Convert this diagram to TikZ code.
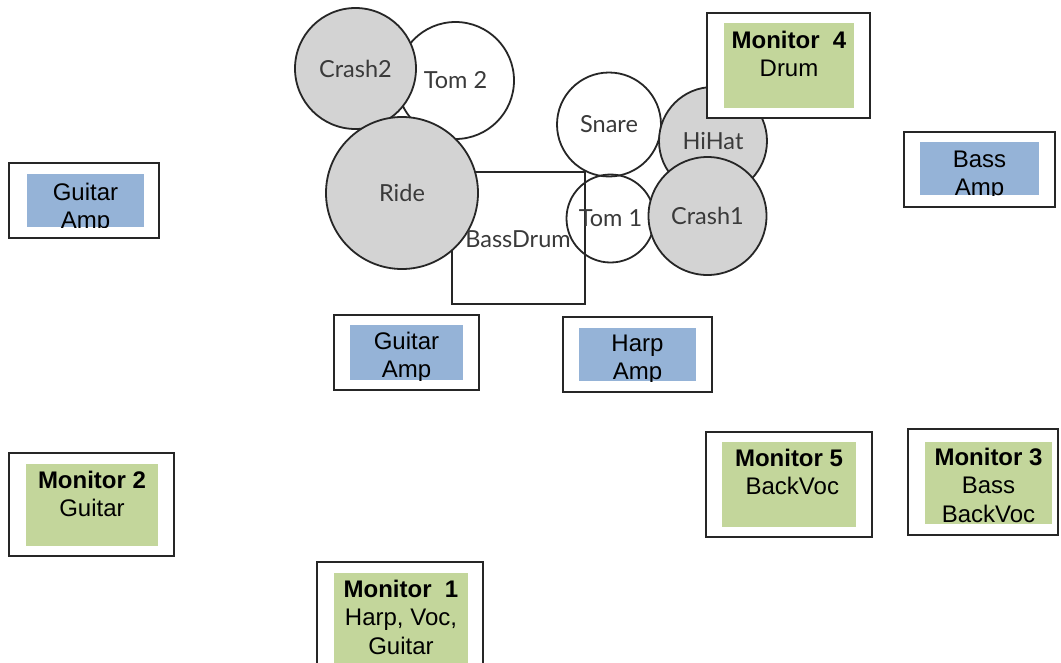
\documentclass[tikz,border=0pt]{standalone}
\usepackage{fontspec}
\setmainfont{Liberation Sans}
\newfontfamily\drumfont{Lato}
\definecolor{ampblue}{HTML}{95B3D7}
\definecolor{mongreen}{HTML}{C3D69B}
\definecolor{cymgray}{HTML}{D3D3D3}
\definecolor{drumtext}{HTML}{3A3A3A}
\tikzset{
  drum/.style={circle, draw=black!85, line width=1.8pt, inner sep=0pt,
    font=\drumfont\fontsize{23.5}{27}\selectfont, text=drumtext},
  cymbal/.style={drum, fill=cymgray},
  skin/.style={drum, fill=white},
  hoop/.style={drum},
  kick/.style={rectangle, draw=black!85, line width=1.8pt, inner sep=0pt},
  kicklabel/.style={inner sep=0pt, font=\drumfont\fontsize{23.5}{27}\selectfont, text=drumtext},
  outerbox/.style={rectangle, draw=black!85, line width=1.4pt, fill=white, inner sep=0pt},
  ampfill/.style={rectangle, fill=ampblue, inner sep=0pt},
  monfill/.style={rectangle, fill=mongreen, inner sep=0pt},
  boxtext/.style={anchor=base, inner sep=0pt, font=\fontsize{24}{28.8}\selectfont, text=black}
}
\begin{document}
\begin{tikzpicture}[x=1pt,y=-1pt]
\clip (0,0) rectangle (1061,662);
\fill[white] (0,0) rectangle (1061,662);

% drum kit
\node[skin, minimum size=117pt] (tom2) at (455.5,80.5) {Tom 2};
\node[cymbal, minimum size=121pt] (crash2) at (355.5,68.5) {Crash2};
\node[kick, minimum width=133pt, minimum height=132pt] (bassdrum) at (518.5,238) {};
\node[cymbal, minimum size=152pt] (ride) at (402,193) {Ride};
\node[kicklabel] (bdlabel) at (518,239) {BassDrum};
\node[skin, minimum size=104pt] (snare) at (609,124.5) {Snare};
\node[hoop, minimum size=88pt] (tom1) at (610.5,218.5) {Tom 1};
\node[cymbal, minimum size=108pt] (hihat) at (713,141) {HiHat};
\node[cymbal, minimum size=118pt] (crash1) at (707.5,216) {Crash1};

% left guitar amp
\node[outerbox, minimum width=150pt, minimum height=75pt] (gaL) at (84,200.5) {};
\node[ampfill, minimum width=117pt, minimum height=53pt] (gaLin) at (85.5,200.5) {};
\begin{scope}
\clip (gaLin.south west) rectangle (gaLin.north east);
\node[boxtext] (gaLtext) at (85.5,200) {\begin{tabular}[t]{@{}c@{}}Guitar\\Amp\end{tabular}};
\end{scope}

% middle guitar amp
\node[outerbox, minimum width=145pt, minimum height=75pt] (gaM) at (406.5,352.5) {};
\node[ampfill, minimum width=113pt, minimum height=55pt] (gaMin) at (406.5,352.5) {};
\begin{scope}
\clip (gaMin.south west) rectangle (gaMin.north east);
\node[boxtext] (gaMtext) at (406.5,349) {\begin{tabular}[t]{@{}c@{}}Guitar\\Amp\end{tabular}};
\end{scope}

% harp amp
\node[outerbox, minimum width=149pt, minimum height=75pt] (ha) at (637.5,354.5) {};
\node[ampfill, minimum width=117pt, minimum height=53pt] (hain) at (637.5,354.5) {};
\begin{scope}
\clip (hain.south west) rectangle (hain.north east);
\node[boxtext] (hatext) at (637.5,351) {\begin{tabular}[t]{@{}c@{}}Harp\\Amp\end{tabular}};
\end{scope}

% bass amp
\node[outerbox, minimum width=151pt, minimum height=75pt] (ba) at (979.5,169.5) {};
\node[ampfill, minimum width=119pt, minimum height=53pt] (bain) at (979.5,168.5) {};
\begin{scope}
\clip (bain.south west) rectangle (bain.north east);
\node[boxtext] (batext) at (979.5,167) {\begin{tabular}[t]{@{}c@{}}Bass\\Amp\end{tabular}};
\end{scope}

% monitor 4
\node[outerbox, minimum width=163pt, minimum height=105pt] (m4) at (788.5,65.5) {};
\node[monfill, minimum width=130pt, minimum height=85pt] (m4in) at (789,65.5) {};
\node[boxtext] (m4text) at (789,48) {\begin{tabular}[t]{@{}c@{}}\textbf{Monitor~~4}\\Drum\end{tabular}};

% monitor 2
\node[outerbox, minimum width=165pt, minimum height=103pt] (m2) at (91.5,504.5) {};
\node[monfill, minimum width=132pt, minimum height=82pt] (m2in) at (92,505) {};
\node[boxtext] (m2text) at (92,488) {\begin{tabular}[t]{@{}c@{}}\textbf{Monitor 2}\\Guitar\end{tabular}};

% monitor 1
\node[outerbox, minimum width=166pt, minimum height=118pt] (m1) at (400,621) {};
\node[monfill, minimum width=134pt, minimum height=107pt] (m1in) at (401,626.5) {};
\node[boxtext] (m1text) at (401,597) {\begin{tabular}[t]{@{}c@{}}\textbf{Monitor~~1}\\Harp, Voc,\\Guitar\end{tabular}};

% monitor 5
\node[outerbox, minimum width=166pt, minimum height=105pt] (m5) at (789,484.5) {};
\node[monfill, minimum width=134pt, minimum height=85pt] (m5in) at (789,484.5) {};
\node[boxtext] (m5text) at (789,466) {\begin{tabular}[t]{@{}c@{}}\textbf{Monitor 5}\\\ BackVoc\end{tabular}};

% monitor 3
\node[outerbox, minimum width=150pt, minimum height=106pt] (m3) at (983,482) {};
\node[monfill, minimum width=127pt, minimum height=82pt] (m3in) at (988.5,483) {};
\node[boxtext] (m3text) at (988.5,465) {\begin{tabular}[t]{@{}c@{}}\textbf{Monitor 3}\\Bass\\BackVoc\end{tabular}};
\end{tikzpicture}
\end{document}
